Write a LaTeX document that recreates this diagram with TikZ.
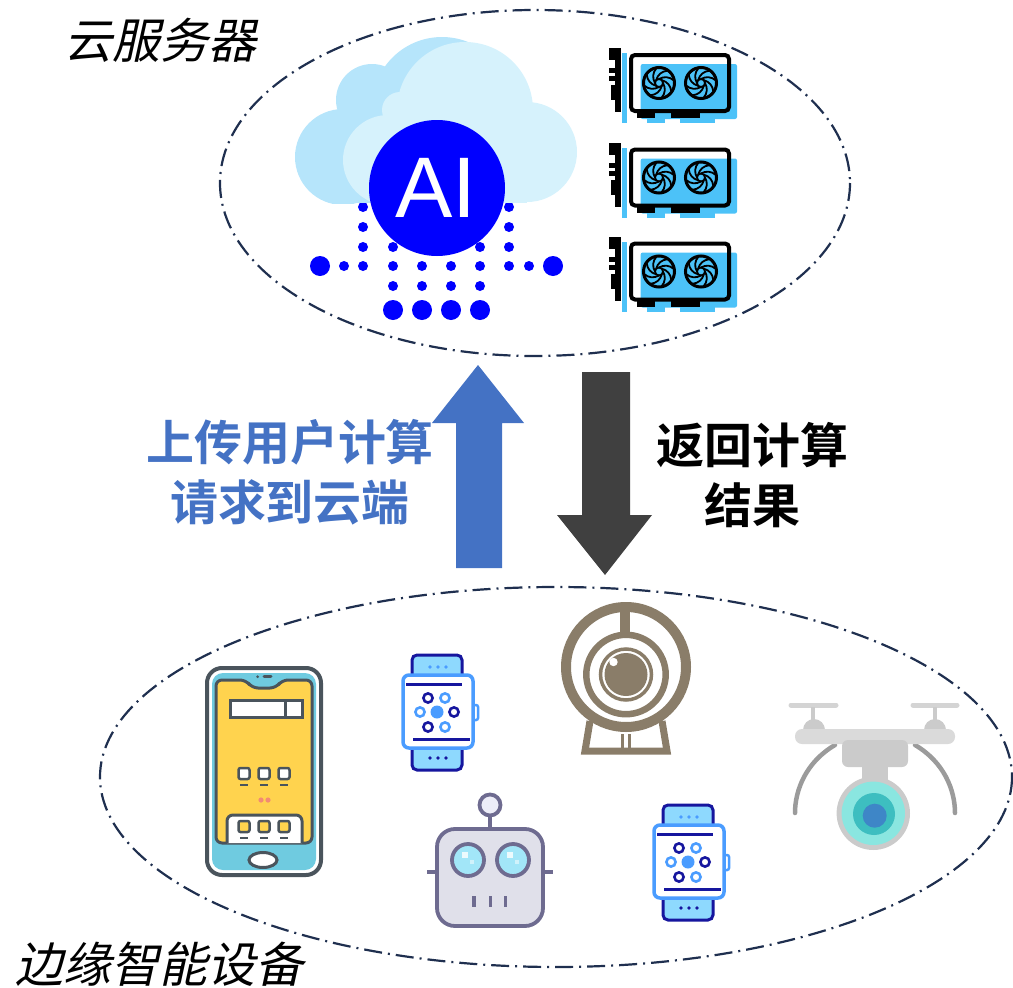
\documentclass[tikz,border=0pt]{standalone}
\usepackage{fontspec}
\newfontfamily\cjk[BoldFont={Noto Sans CJK SC Bold}]{Noto Sans CJK SC}
\newfontfamily\cjkslant[FakeSlant=0.22]{Noto Sans CJK SC}
\newfontfamily\latinsans{Liberation Sans}

\definecolor{ringnavy}{HTML}{1F2F4F}
\definecolor{upblue}{HTML}{4472C4}
\definecolor{downgray}{HTML}{404040}
\definecolor{aiblue}{HTML}{0000FF}
\definecolor{cloudback}{HTML}{B6E5FB}
\definecolor{cloudfront}{HTML}{D6F2FC}
\definecolor{gpublue}{HTML}{4CC2F8}
\definecolor{phonedark}{HTML}{4A545C}
\definecolor{phoneblue}{HTML}{6FCBE0}
\definecolor{phoneyellow}{HTML}{FFD34E}
\definecolor{phonered}{HTML}{F28B73}
\definecolor{watchnavy}{HTML}{16169E}
\definecolor{watchlight}{HTML}{4A9CFF}
\definecolor{watchband}{HTML}{8ED9FE}
\definecolor{camtaupe}{HTML}{8A7D69}
\definecolor{robotline}{HTML}{6E6B90}
\definecolor{robotface}{HTML}{E0E0EA}
\definecolor{roboteye}{HTML}{A2E6F8}
\definecolor{robotcap}{HTML}{EDEDF8}
\definecolor{droneprop}{HTML}{D4D4D4}
\definecolor{dronebody}{HTML}{DADADA}
\definecolor{dronebox}{HTML}{CBCBCB}
\definecolor{dronearm}{HTML}{9B9B9B}
\definecolor{lenslight}{HTML}{8AE6E0}
\definecolor{lensmid}{HTML}{3DBEC0}
\definecolor{lensdark}{HTML}{3E86C7}

\tikzset{
  zone/.style={ringnavy, line width=2.2pt, dash pattern=on 18pt off 6pt on 2pt off 6pt},
  cjklabel/.style={font=\cjkslant\fontsize{48}{52}\selectfont, text=black, inner sep=0pt},
  boldlabel/.style={font=\cjk\bfseries\fontsize{48}{52}\selectfont, inner sep=0pt, align=center},
  dot/.style={fill=aiblue},
  % graphics card with two fans; origin at top-left of the bracket
  gpucard/.pic={
    \fill[gpublue] (13,5) rectangle (18,75);
    \fill[gpublue, rounded corners=2pt] (31.7,16) rectangle (128,71);
    \fill[gpublue] (38,70) rectangle (56,75);
    \fill[gpublue] (71,70) rectangle (106,75);
    \fill[black] (0,0) rectangle (12,12);
    \fill[black] (6,0) rectangle (12,64);
    \fill[black] (0,20) rectangle (12,25);
    \fill[black] (0,28) rectangle (12,33);
    \fill[black] (2,37) rectangle (12,52);
    \draw[black, line width=4pt, rounded corners=4pt] (22,7) rectangle (120,63);
    \fill[black] (28,63) rectangle (46,70);
    \fill[black] (61.7,63) rectangle (91,70);
    \foreach \cx in {50,92}{
      \begin{scope}[shift={(\cx,35)}]
        \draw[black, line width=3pt] (0,0) circle (15.5);
        \draw[black, line width=1.8pt] (0,0) circle (4);
        \foreach \a [evaluate=\a as \b using \a+80] in {0,45,...,315}
          \draw[black, line width=1.8pt] (\a:4) to[bend left=35] (\b:15);
      \end{scope}
    }
  },
  % smart watch; origin at top-left of the face
  watch/.pic={
    \draw[watchnavy, line width=3pt, fill=watchband, rounded corners=5pt] (9,2) -- (9,-20) -- (59,-20) -- (59,2);
    \draw[watchnavy, line width=3pt, fill=watchband, rounded corners=5pt] (9,71) -- (9,95) -- (59,95) -- (59,71);
    \foreach \dx in {27,35,43}{
      \fill[watchlight] (\dx,-8) circle (1.9);
      \fill[watchnavy] (\dx,83) circle (1.9);
    }
    \draw[watchlight, line width=2.5pt, fill=white, rounded corners=2pt] (69,30) rectangle (75,45);
    \draw[watchlight, line width=3.5pt, fill=white, rounded corners=6pt] (0,0) rectangle (70,73);
    \draw[watchnavy, line width=3pt] (3,9) -- (59,9);
    \draw[watchnavy, line width=3pt] (10,64) -- (67,64);
    \fill[watchlight] (34,37) circle (6.5);
    \draw[watchnavy, line width=2.6pt] (25,23) circle (4.6);
    \draw[watchlight, line width=2.6pt] (42,23) circle (4.6);
    \draw[watchlight, line width=2.6pt] (17,37) circle (4.6);
    \draw[watchnavy, line width=2.6pt] (51,37) circle (4.6);
    \draw[watchnavy, line width=2.6pt] (25,52) circle (4.6);
    \draw[watchlight, line width=2.6pt] (42,52) circle (4.6);
  }
}

\begin{document}
\begin{tikzpicture}[x=1pt, y=-1pt]
\useasboundingbox (0,0) rectangle (1013,988);

% ---------- server zone ----------
\draw[zone] (535,183) ellipse [x radius=315, y radius=173];
\node[cjklabel] (cloudlabel) at (160,40) {云服务器};

% dotted data streams under the cloud
\foreach \x in {363,509}{
  \fill[dot] (\x,207) circle (5);
  \fill[dot] (\x,227) circle (5);
}
\foreach \x in {363,393,480,509}
  \fill[dot] (\x,247) circle (5);
\foreach \x in {344,363,393,422,451,480,509,529}
  \fill[dot] (\x,266) circle (5);
\fill[dot] (320,266) circle (10);
\fill[dot] (553,266) circle (10);
\foreach \x in {393,422,451,480}{
  \fill[dot] (\x,286) circle (5);
  \fill[dot] (\x,310) circle (10);
}

% cloud, flat bottom
\begin{scope}
  \clip (0,0) rectangle (1013,203);
  \fill[cloudback] (343,157) circle (48);
  \fill[cloudback] (372,100) circle (36);
  \fill[cloudback] (442,107) circle (70);
  \fill[cloudback] (343,140) rectangle (470,203);
  \fill[cloudfront] (388,160) circle (45);
  \fill[cloudfront] (400,110) circle (18);
  \fill[cloudfront] (465,110) circle (68);
  \fill[cloudfront] (527,152) circle (50);
  \fill[cloudfront] (388,140) rectangle (527,203);
\end{scope}

\fill[aiblue] (437,188) circle (68);
\node[font=\latinsans\fontsize{86}{86}\selectfont, text=white, inner sep=0pt] (ailabel) at (436,188) {AI};

% graphics cards
\pic at (609,48) {gpucard};
\pic at (609,142.5) {gpucard};
\pic at (609,236.5) {gpucard};

% ---------- transfer arrows ----------
\fill[upblue] (456,568) -- (456,423) -- (432,423) -- (478,365) -- (524,423) -- (502,423) -- (502,568) -- cycle;
\fill[downgray] (582,372) -- (630,372) -- (630,515) -- (652,515) -- (605,575) -- (557,515) -- (582,515) -- cycle;
\node[boldlabel, text=upblue] (uplabel) at (290,472) {上传用户计算\\[8pt]请求到云端};
\node[boldlabel, text=black] (downlabel) at (752,475) {返回计算\\[8pt]结果};

% ---------- edge device zone ----------
\draw[zone] (556,777) ellipse [x radius=456, y radius=190];
\node[cjklabel] (edgelabel) at (160,964) {边缘智能设备};

% phone
\draw[phonedark, line width=4pt, fill=white, rounded corners=15pt] (207,668) rectangle (321,875);
\fill[phoneblue, rounded corners=11pt] (212,673) rectangle (316,870);
\draw[phonedark, line width=3pt, fill=phoneyellow, rounded corners=6pt]
  (216,680) -- (246,680) -- (252,688) -- (276,688) -- (282,680) -- (312,680) -- (312,843) -- (216,843) -- cycle;
\draw[phonedark, line width=3pt, fill=white] (230,700) rectangle (302,717);
\draw[phonedark, line width=3pt] (285,700) -- (285,717);
\foreach \x in {244,264,284}{
  \draw[phonedark, line width=2.5pt, fill=white, rounded corners=2pt] (\x-5.5,768) rectangle (\x+5.5,779);
  \draw[phonedark, line width=2.5pt] (\x-4,785) -- (\x+4,785);
}
\fill[phonered] (261,800) circle (2.6);
\fill[phonered] (268,800) circle (2.6);
\draw[phonedark, line width=3pt, fill=white, rounded corners=6pt] (227,843) -- (227,815) -- (302,815) -- (302,843);
\foreach \x in {244,264,284}{
  \draw[phonedark, line width=2.5pt, fill=phoneyellow, rounded corners=2pt] (\x-5.5,821) rectangle (\x+5.5,832);
  \draw[phonedark, line width=2.5pt] (\x-4,838) -- (\x+4,838);
}
\draw[phonedark, line width=3pt, fill=white] (263,860) ellipse [x radius=14, y radius=7.5];
\fill[phonedark] (257.7,676.7) circle (1.5);
\draw[phonedark, line width=3pt, line cap=round] (264,676.7) -- (271,676.7);

% watches
\pic at (403,675) {watch};
\pic at (654,825) {watch};

% webcam
\begin{scope}[camtaupe]
  \draw[line width=7pt] (590,721) -- (585,751) -- (667,751) -- (662,721);
  \draw[line width=3pt] (622,734) -- (622,749);
  \draw[line width=3pt] (629.5,734) -- (629.5,749);
  \draw[line width=10pt] (626,667) circle (60);
  \draw[line width=10pt] (625,607) -- (625,634);
  \draw[line width=6.5pt] (626,674.5) circle (39.7);
  \draw[line width=3.5pt] (626,674.5) circle (25.5);
  \fill (626,674.5) circle (21.5);
  \fill[white] (613.5,662) circle (4.2);
\end{scope}

% robot
\begin{scope}[robotline, line width=3.8pt]
  \draw (490,816) -- (490,829);
  \draw[fill=robotcap] (490,805) circle (10.5);
  \draw (427,872) -- (437,872);
  \draw (543,872) -- (553,872);
  \draw[fill=robotface, rounded corners=18pt] (437,829) rectangle (543,926);
  \draw[fill=roboteye] (468,860) circle (16);
  \draw[fill=roboteye] (513,860) circle (16);
  \draw (474,896) -- (474,907);
  \draw (490.5,896) -- (490.5,907);
  \draw (505.5,896) -- (505.5,907);
\end{scope}
\fill[white, opacity=0.8] (462,852) rectangle (468,858);
\fill[white, opacity=0.8] (507,852) rectangle (513,858);
\fill[white, opacity=0.5] (470,860) rectangle (474,864);
\fill[white, opacity=0.5] (515,860) rectangle (519,864);

% drone
\draw[droneprop, line width=5pt, line cap=round] (791,705) -- (836,705);
\draw[droneprop, line width=5pt, line cap=round] (913,705) -- (957,705);
\draw[dronebox, line width=4pt] (813,707) -- (813,722);
\draw[dronebox, line width=4pt] (935,707) -- (935,722);
\fill[dronebox] (814,730) circle (11);
\fill[dronebox] (935,730) circle (11);
\draw[dronearm, line width=4.5pt, line cap=round] (835,745) .. controls (806,762) and (795,790) .. (795,813);
\draw[dronearm, line width=4.5pt, line cap=round] (915,745) .. controls (944,762) and (955,790) .. (955,813);
\fill[dronebody, rounded corners=7pt] (795,729) rectangle (955,744);
\fill[dronebox, rounded corners=6pt] (842,740) rectangle (908,767);
\fill[dronebox] (862,765) rectangle (888,782);
\fill[dronebox] (873.3,813.3) circle (36.7);
\fill[lenslight] (873.3,813.3) circle (31.7);
\fill[lensmid] (874,814) circle (21);
\fill[lensdark] (874.7,815.7) circle (12);
\end{tikzpicture}
\end{document}
